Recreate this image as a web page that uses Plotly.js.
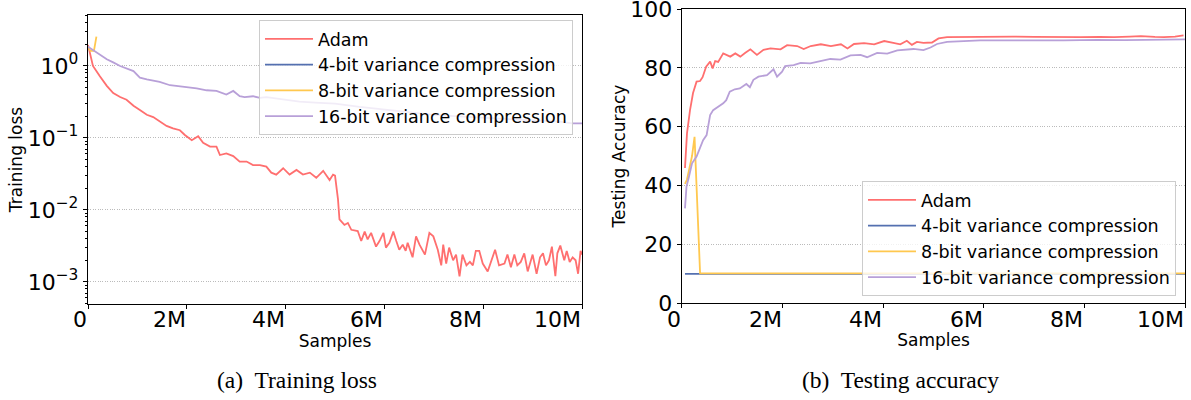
<!DOCTYPE html>
<html><head><meta charset="utf-8">
<script src="https://cdn.plot.ly/plotly-3.0.1.min.js"></script>
<style>html,body{margin:0;padding:0;background:#fff}#chart{width:1191px;height:400px}</style>
</head><body><div id="chart"></div>
<script>
// ---- data (x in millions of samples) ----
const seriesNames = ["Adam", "4-bit variance compression", "8-bit variance compression", "16-bit variance compression"];
const seriesColors = ["#ff6f6f", "#5470b0", "#ffc84f", "#b8a0d8"];

const adamLossX = [0,0.10,0.24,0.38,0.51,0.65,0.78,0.92,1.05,1.19,1.32,1.45,1.59,1.72,1.86,1.96,2.10,2.23,2.33,2.47,2.60,2.67,2.80,2.94,3.07,3.21,3.34,3.48,3.61,3.71,3.81,3.95,4.08,4.22,4.35,4.49,4.62,4.76,4.89,4.96,5.00,5.06,5.09,5.19,5.26,5.33,5.46,5.53,5.60,5.66,5.73,5.83,5.90,5.98,6.03,6.10,6.18,6.24,6.30,6.37,6.43,6.47,6.57,6.64,6.71,6.82,6.91,6.99,7.08,7.15,7.19,7.25,7.31,7.39,7.45,7.52,7.58,7.66,7.73,7.79,7.85,7.92,7.99,8.09,8.16,8.24,8.32,8.43,8.49,8.56,8.63,8.69,8.76,8.83,8.90,9.00,9.08,9.15,9.21,9.27,9.33,9.39,9.46,9.50,9.56,9.64,9.69,9.75,9.81,9.87,9.92,9.97,10.0];
const adamLossY = [1.96,1.00,0.72,0.53,0.42,0.37,0.34,0.28,0.245,0.21,0.195,0.17,0.147,0.136,0.128,0.11,0.093,0.106,0.086,0.076,0.076,0.058,0.061,0.056,0.047,0.047,0.042,0.042,0.040,0.033,0.031,0.038,0.031,0.036,0.031,0.033,0.028,0.035,0.026,0.031,0.030,0.014,0.0074,0.0062,0.0066,0.0053,0.0051,0.0037,0.005,0.0039,0.0048,0.0031,0.0037,0.0048,0.003,0.0035,0.005,0.0037,0.0028,0.0033,0.0027,0.0035,0.0022,0.0043,0.0033,0.0024,0.0048,0.0043,0.0028,0.0017,0.0033,0.0018,0.003,0.002,0.0024,0.0012,0.0024,0.0017,0.0019,0.0017,0.0027,0.0027,0.0018,0.0014,0.0019,0.0028,0.0017,0.0018,0.0024,0.0016,0.0024,0.0017,0.0019,0.0025,0.0014,0.0024,0.0013,0.0022,0.0025,0.0017,0.002,0.0031,0.0012,0.0025,0.0032,0.002,0.0027,0.0019,0.0022,0.002,0.0013,0.0027,0.0024];

// 4-bit run diverged immediately: only its first logged loss exists
const bit4LossX = [0];
const bit4LossY = [1.85];

const bit8LossX = [0,0.05,0.12,0.17];
const bit8LossY = [1.85,1.62,1.62,2.55];

const bit16LossX = [0,0.10,0.24,0.38,0.51,0.65,0.92,1.05,1.19,1.45,1.66,1.86,2.00,2.20,2.40,2.60,2.80,2.94,3.07,3.17,3.34,3.48,3.61,3.95,4.28,4.60,5.00,5.50,6.00,6.50,7.00,7.50,8.00,8.50,9.00,9.50,9.80,10.0];
const bit16LossY = [1.85,1.67,1.42,1.24,1.12,1.0,0.85,0.69,0.65,0.60,0.54,0.52,0.51,0.49,0.46,0.45,0.40,0.45,0.38,0.37,0.38,0.36,0.37,0.34,0.32,0.31,0.30,0.27,0.25,0.23,0.21,0.20,0.19,0.18,0.175,0.17,0.16,0.16];

const adamAccX = [0.06,0.10,0.16,0.22,0.29,0.36,0.41,0.48,0.56,0.61,0.66,0.72,0.82,0.96,1.06,1.16,1.26,1.36,1.49,1.62,1.76,1.96,2.09,2.29,2.42,2.56,2.76,2.96,3.16,3.29,3.42,3.62,3.82,4.02,4.20,4.34,4.47,4.57,4.67,4.80,4.97,5.10,5.27,5.60,5.93,6.30,6.60,7.00,7.26,7.60,7.92,8.30,8.59,8.90,9.12,9.40,9.58,9.80,9.97];
const adamAccY = [45.9,57.7,65.6,71.4,75.3,75.5,76.8,80.4,82.1,79.8,82.3,82.0,84.9,83.8,84.9,83.8,85.1,86.3,84.4,86.1,86.6,86.3,87.7,87.4,86.4,87.4,88.0,87.4,88.0,86.6,88.1,88.4,88.0,89.1,88.5,88.0,89.2,87.8,88.8,88.5,88.6,90.0,90.4,90.5,90.6,90.5,90.6,90.5,90.4,90.5,90.4,90.5,90.4,90.6,90.8,90.5,90.4,90.6,91.0];

const bit4AccX = [0.06,10.0];
const bit4AccY = [9.9,9.9];

const bit8AccX = [0.06,0.10,0.20,0.25,0.36,10.0];
const bit8AccY = [40.5,42,50,56.5,10.1,10.1];

const bit16AccX = [0.06,0.09,0.14,0.20,0.29,0.36,0.42,0.49,0.56,0.62,0.72,0.82,0.88,0.95,1.05,1.15,1.28,1.35,1.42,1.52,1.69,1.82,1.89,1.99,2.05,2.22,2.36,2.55,2.75,2.95,3.15,3.35,3.55,3.68,3.88,4.08,4.28,4.60,4.80,4.94,5.07,5.27,5.93,6.50,6.93,7.59,8.26,8.80,9.25,10.0];
const bit16AccY = [32.2,39.6,43,47.5,49.8,52.6,55.4,57.1,63.9,65.6,66.8,67.9,69,71.9,72.7,73.0,74.5,73.4,75.9,77,77.5,79.5,77,78.7,80.6,80.9,81.7,81.5,82.3,83,82.8,84.2,84.4,83.6,85.1,84.8,85.9,86.4,86.0,86.9,88.1,88.8,89.3,89.2,89.3,89.3,89.5,89.4,89.6,89.7];

const xTickVals = [0,2,4,6,8,10];
const xTickText = ["0","2M","4M","6M","8M","10M"];
const lossTickVals = [1,0.1,0.01,0.001];
const lossTickText = ["10<sup>0</sup>","10<sup>\u22121</sup>","10<sup>\u22122</sup>","10<sup>\u22123</sup>"];
const accTickVals = [0,20,40,60,80,100];
const captions = ["(a)  Training loss", "(b)  Testing accuracy"];

// ---- build ----
const lossSets = [[adamLossX,adamLossY],[bit4LossX,bit4LossY],[bit8LossX,bit8LossY],[bit16LossX,bit16LossY]];
const accSets = [[adamAccX,adamAccY],[bit4AccX,bit4AccY],[bit8AccX,bit8AccY],[bit16AccX,bit16AccY]];
const traces = [];
lossSets.forEach((s,i)=>traces.push({x:s[0],y:s[1],type:'scatter',mode:'lines',name:seriesNames[i],
  line:{color:seriesColors[i],width:1.8},xaxis:'x',yaxis:'y',legend:'legend',legendgroup:'L'+i}));
accSets.forEach((s,i)=>traces.push({x:s[0],y:s[1],type:'scatter',mode:'lines',name:seriesNames[i],
  line:{color:seriesColors[i],width:1.8},xaxis:'x2',yaxis:'y2',legend:'legend2',legendgroup:'R'+i}));

const F = 'DejaVu Sans, sans-serif';
const GRIDDASH = '1px,1.4px';
const axBase = {showline:true,linecolor:'#000',linewidth:1.2,mirror:true,ticks:'outside',ticklen:4,tickcolor:'#000',
  tickfont:{family:F,size:22,color:'#000'},zeroline:false,automargin:false,ticklabeloverflow:'allow'};
const legBase = {font:{family:F,size:17.5,color:'#000'},bgcolor:'rgba(255,255,255,0.8)',bordercolor:'#cccccc',borderwidth:1,
  tracegroupgap:0,itemwidth:48,xanchor:'right',yanchor:'top'};
const titleFont = {family:F,size:17,color:'#000'};

const annotations = [];
// x tick labels, right-aligned at their ticks (as in the reference)
['x','x2'].forEach(xr=>{
  xTickVals.forEach((v,i)=>annotations.push({text:xTickText[i],xref:xr,yref:'paper',x:v,y:1-319/400,
    xanchor:'right',yanchor:'middle',showarrow:false,font:{family:F,size:22,color:'#000'},borderpad:0}));
});
annotations.push({text:captions[0],xref:'paper',yref:'paper',x:297/1191,y:1-380/400,showarrow:false,xanchor:'center',yanchor:'middle',
  font:{family:'Liberation Serif, Times New Roman, serif',size:23.5,color:'#000'}});
annotations.push({text:captions[1],xref:'paper',yref:'paper',x:900/1191,y:1-380/400,showarrow:false,xanchor:'center',yanchor:'middle',
  font:{family:'Liberation Serif, Times New Roman, serif',size:23.5,color:'#000'}});

const layout = {
  width:1191,height:400,margin:{l:0,r:0,t:0,b:0},paper_bgcolor:'#fff',plot_bgcolor:'#fff',showlegend:true,
  xaxis:Object.assign({},axBase,{domain:[0.0739,0.4887],range:[0,10],tickmode:'array',tickvals:xTickVals,showticklabels:false,
    showgrid:false,title:{text:'Samples',font:titleFont,standoff:26},anchor:'y'}),
  yaxis:Object.assign({},axBase,{domain:[0.24,0.9625],type:'log',range:[-3.306,0.708],tickmode:'array',tickvals:lossTickVals,ticktext:lossTickText,
    showgrid:true,gridcolor:'#aaaaaa',griddash:GRIDDASH,gridwidth:0.8,
    minor:{dtick:'D1',ticks:'outside',ticklen:2,tickcolor:'#000',showgrid:false},
    title:{text:'Training loss',font:titleFont,standoff:0},anchor:'x'}),
  xaxis2:Object.assign({},axBase,{domain:[0.5726,0.995],range:[0,10],tickmode:'array',tickvals:xTickVals,showticklabels:false,
    showgrid:false,title:{text:'Samples',font:titleFont,standoff:26},anchor:'y2'}),
  yaxis2:Object.assign({},axBase,{domain:[0.2425,0.9775],range:[0,100],tickmode:'array',tickvals:accTickVals,
    showgrid:true,gridcolor:'#aaaaaa',griddash:GRIDDASH,gridwidth:0.8,
    title:{text:'Testing Accuracy',font:titleFont,standoff:0},anchor:'x2'}),
  legend:Object.assign({},legBase,{x:0.4811,y:0.95}),
  legend2:Object.assign({},legBase,{x:0.9874,y:0.5475}),
  annotations:annotations
};
Plotly.newPlot('chart',traces,layout,{staticPlot:true,displayModeBar:false});
</script></body></html>
